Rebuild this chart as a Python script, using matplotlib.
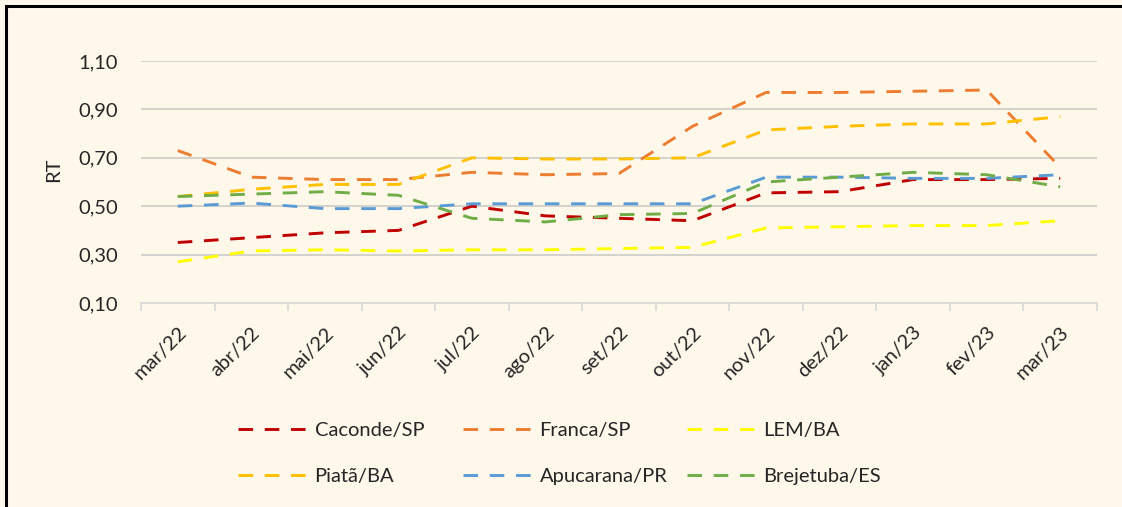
import numpy as np
import matplotlib.pyplot as plt
from matplotlib.patches import Rectangle

meses = ["mar/22", "abr/22", "mai/22", "jun/22", "jul/22", "ago/22", "set/22",
         "out/22", "nov/22", "dez/22", "jan/23", "fev/23", "mar/23"]

caconde = [0.35, 0.37, 0.39, 0.40, 0.50, 0.46, 0.45, 0.44, 0.555, 0.56, 0.61, 0.61, 0.615]
franca = [0.73, 0.62, 0.61, 0.61, 0.64, 0.63, 0.635, 0.83, 0.97, 0.97, 0.975, 0.98, 0.66]
lem = [0.27, 0.315, 0.32, 0.315, 0.32, 0.32, 0.325, 0.33, 0.41, 0.415, 0.42, 0.42, 0.44]
piata = [0.54, 0.57, 0.59, 0.59, 0.70, 0.695, 0.695, 0.70, 0.815, 0.83, 0.84, 0.84, 0.87]
apucarana = [0.50, 0.513, 0.49, 0.49, 0.51, 0.51, 0.51, 0.51, 0.62, 0.62, 0.615, 0.615, 0.63]
brejetuba = [0.54, 0.55, 0.56, 0.545, 0.45, 0.435, 0.465, 0.47, 0.60, 0.62, 0.64, 0.63, 0.58]

nomes = ["Caconde/SP", "Franca/SP", "LEM/BA", "Piatã/BA", "Apucarana/PR", "Brejetuba/ES"]
cores = ["#C00000", "#ED7D31", "#FFFF00", "#FFC000", "#5B9BD5", "#70AD47"]
series = [caconde, franca, lem, piata, apucarana, brejetuba]

fundo = "#FEF8EB"
texto = "#262626"
plt.rcParams['font.family'] = ['Lato', 'DejaVu Sans']

W, H = 1122, 507
fig = plt.figure(figsize=(W / 100, H / 100), dpi=100, facecolor=fundo)
ax = fig.add_axes([141 / W, 1 - 303 / H, 956 / W, 242 / H])
ax.set_facecolor(fundo)

x = np.arange(len(meses))
linhas = []
for nome, cor, y in zip(nomes, cores, series):
    l, = ax.plot(x, y, color=cor, lw=2.1, ls=(0, (5.0, 4.0)), label=nome)
    linhas.append(l)

ax.set_xlim(-0.5, len(meses) - 0.5)
ax.set_ylim(0.10, 1.10)
yt = np.arange(0.10, 1.11, 0.20)
ax.set_yticks(yt)
ax.set_yticklabels([f"{v:.2f}".replace(".", ",") for v in yt], fontsize=14.5, color=texto)
ax.yaxis.grid(True, color="#D0CECA", lw=1.3)
ax.set_axisbelow(True)
ax.tick_params(axis="y", length=0, pad=16.5)

# rotulos no centro, marcas entre as categorias
ax.set_xticks(x)
ax.set_xticklabels(meses, rotation=45, ha="right", va="top", rotation_mode="anchor",
                   fontsize=14.5, color=texto)
ax.tick_params(axis="x", length=0, pad=15)
ax.set_xticks(np.arange(-0.5, len(meses)), minor=True)
ax.tick_params(axis="x", which="minor", length=6, color="#D9D9D9", width=1.3)

for lado in ["top", "right", "left"]:
    ax.spines[lado].set_visible(False)
ax.spines["bottom"].set_color("#D9D9D9")
ax.spines["bottom"].set_linewidth(1.3)

ax.set_ylabel("RT", fontsize=14.5, color=texto)
ax.yaxis.set_label_coords(-79 / 956, 0.55)

# legenda em tres colunas, linha a linha como no Excel
col_x = [238, 463, 687]
for i, cx in enumerate(col_x):
    leg = fig.legend([linhas[i], linhas[i + 3]], [nomes[i], nomes[i + 3]],
                     loc="center left", bbox_to_anchor=(cx / W, 1 - 453.5 / H),
                     frameon=False, fontsize=14.5, handlelength=3.5, handletextpad=0.3,
                     labelspacing=1.4, borderpad=0, borderaxespad=0)
    for t in leg.get_texts():
        t.set_color(texto)

fig.patches.append(Rectangle((6 / W, -0.1), 1.2, 1 - 6 / H + 0.1, transform=fig.transFigure,
                             fill=False, edgecolor="black", lw=2.2))

fig.savefig("out.png", dpi=100, facecolor=fundo)
